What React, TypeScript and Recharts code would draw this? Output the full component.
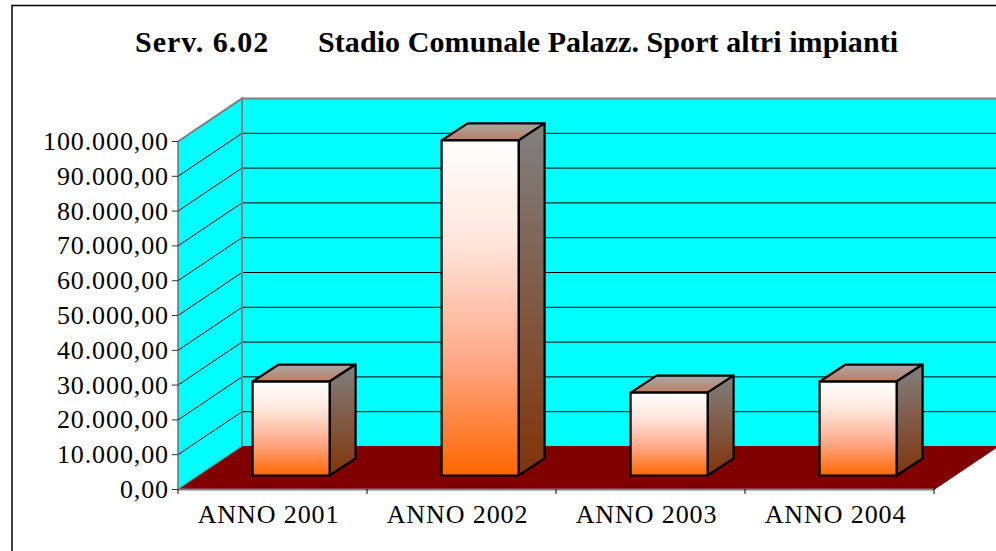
import React from "react";
import { ComposedChart, Bar, XAxis, YAxis, CartesianGrid, usePlotArea } from "recharts";

const categories = ["ANNO 2001", "ANNO 2002", "ANNO 2003", "ANNO 2004"];
const values = [27000, 96300, 23800, 27000];
const yTicks = [0, 10000, 20000, 30000, 40000, 50000, 60000, 70000, 80000, 90000, 100000];
const titleLeft = "Serv. 6.02";
const titleRight = "Stadio Comunale Palazz. Sport altri impianti";

const data = categories.map((name, i) => ({ name, value: values[i] }));

const W = 996, H = 551;
const DX = 64, DY = -43;
const BAR_DX = 18.6, BAR_DY = -14, BAR_DEPTH_X = 26, BAR_DEPTH_Y = -17;
const FONT = "'Liberation Serif', 'Times New Roman', serif";

const fmt = (v: number) => {
  const s = String(v).replace(/\B(?=(\d{3})+(?!\d))/g, ".");
  return s + ",00";
};

function Defs() {
  return (
    <defs>
      <linearGradient id="front" x1="0" y1="0" x2="0" y2="1">
        <stop offset="0" stopColor="#ffffff" />
        <stop offset="0.3" stopColor="#ffe6dc" />
        <stop offset="0.65" stopColor="#ffa98a" />
        <stop offset="1" stopColor="#ff6600" />
      </linearGradient>
      <linearGradient id="side" x1="0" y1="0" x2="0" y2="1">
        <stop offset="0" stopColor="#808080" />
        <stop offset="1" stopColor="#80340a" />
      </linearGradient>
      <linearGradient id="top" x1="0" y1="0" x2="0" y2="1">
        <stop offset="0" stopColor="#a8a8a8" />
        <stop offset="1" stopColor="#c07c60" />
      </linearGradient>
    </defs>
  );
}

function Frame() {
  return <rect x={12} y={5.5} width={W + 10} height={H + 10} fill="#fff" stroke="#000" strokeWidth={1.5} />;
}

function Title() {
  return (
    <g fontFamily={FONT} fontWeight="bold" fontSize={30} fill="#000">
      <text x={135} y={52} letterSpacing={1}>{titleLeft}</text>
      <text x={318} y={52} letterSpacing={0.08}>{titleRight}</text>
    </g>
  );
}

function Walls() {
  const p = usePlotArea();
  if (!p) return null;
  const { x, y, width, height } = p;
  const b = y + height, r = x + width;
  return (
    <g>
      <polygon points={`${x},${y} ${x + DX},${y + DY} ${x + DX},${b + DY} ${x},${b}`} fill="#00ffff" stroke="none" />
      <polygon points={`${x + DX},${y + DY} ${r + DX},${y + DY} ${r + DX},${b + DY} ${x + DX},${b + DY}`} fill="#00ffff" stroke="none" />
    </g>
  );
}

function Floor() {
  const p = usePlotArea();
  if (!p) return null;
  const { x, y, width, height } = p;
  const b = y + height, r = x + width;
  return (
    <g>
      <polygon points={`${x},${b} ${r},${b} ${r + DX},${b + DY} ${x + DX},${b + DY}`} fill="#800000" stroke="#800000" strokeWidth={1} />
      <line x1={x} y1={b} x2={x + DX} y2={b + DY} stroke="#808080" strokeWidth={1} />
      <polyline points={`${x},${y} ${x + DX},${y + DY} ${x + DX},${b + DY}`} fill="none" stroke="#808080" strokeWidth={2} />
      <line x1={x + DX} y1={y + DY} x2={r + DX} y2={y + DY} stroke="#808080" strokeWidth={2} />
    </g>
  );
}

function gridLine(props: any) {
  const { x1, y1, x2, index } = props;
  return <polyline key={index} points={`${x1},${y1} ${x1 + DX},${y1 + DY} ${x2 + DX},${y1 + DY}`} fill="none" stroke="#000" strokeWidth={1} />;
}

function Bar3D(props: any) {
  const { x, y, width, height } = props;
  const l = x + BAR_DX, t = y + BAR_DY, r = l + width, b = t + height;
  const dx = BAR_DEPTH_X, dy = BAR_DEPTH_Y;
  const st = { stroke: "#000", strokeWidth: 2.2, strokeLinejoin: "round" as const };
  return (
    <g>
      <polygon points={`${l},${t} ${l + dx},${t + dy} ${r + dx},${t + dy} ${r},${t}`} fill="url(#top)" {...st} />
      <polygon points={`${r},${t} ${r + dx},${t + dy} ${r + dx},${b + dy} ${r},${b}`} fill="url(#side)" {...st} />
      <rect x={l} y={t} width={width} height={height} fill="url(#front)" {...st} />
    </g>
  );
}

function XTick(props: any) {
  const { x, payload, index, visibleTicksCount } = props;
  const band = 189;
  const last = index === (visibleTicksCount ?? categories.length) - 1;
  return (
    <g>
      <line x1={x - band / 2} x2={x - band / 2} y1={489} y2={494} stroke="#000" />
      {last && <line x1={x + band / 2} x2={x + band / 2} y1={489} y2={494} stroke="#000" />}
      <text x={x - 4} y={523} textAnchor="middle" fontFamily={FONT} fontSize={26} letterSpacing={0.9} fill="#000">{payload.value}</text>
    </g>
  );
}

function YTick(props: any) {
  const { y, payload } = props;
  return (
    <g>
      <line x1={172} x2={178} y1={y} y2={y} stroke="#333" />
      <text x={169} y={y + 8.5} textAnchor="end" fontFamily={FONT} fontSize={26} letterSpacing={0.9} fill="#000">{fmt(payload.value)}</text>
    </g>
  );
}

export default function App() {
  return (
    <div style={{ position: "absolute", left: 0, top: 0, width: W, height: H, overflow: "hidden", background: "#fff" }}>
      <ComposedChart
        width={W}
        height={H}
        data={data}
        margin={{ top: 141.5, right: 62, bottom: 40, left: 78 }}
        barCategoryGap={56}
        style={{ overflow: "hidden" }}
      >
        <Defs />
        <Frame />
        <Title />
        <Walls />
        <XAxis dataKey="name" axisLine={{ stroke: "#808080", strokeWidth: 2 }} tickLine={false} tick={<XTick />} interval={0} height={21.5} />
        <YAxis domain={[0, 100000]} ticks={yTicks} axisLine={{ stroke: "#707070", strokeWidth: 1.5 }} tickLine={false} tick={<YTick />} width={100} interval={0} />
        <CartesianGrid vertical={false} horizontal={gridLine} zIndex={0} />
        <Floor />
        <Bar dataKey="value" shape={<Bar3D />} isAnimationActive={false} />
      </ComposedChart>
    </div>
  );
}
